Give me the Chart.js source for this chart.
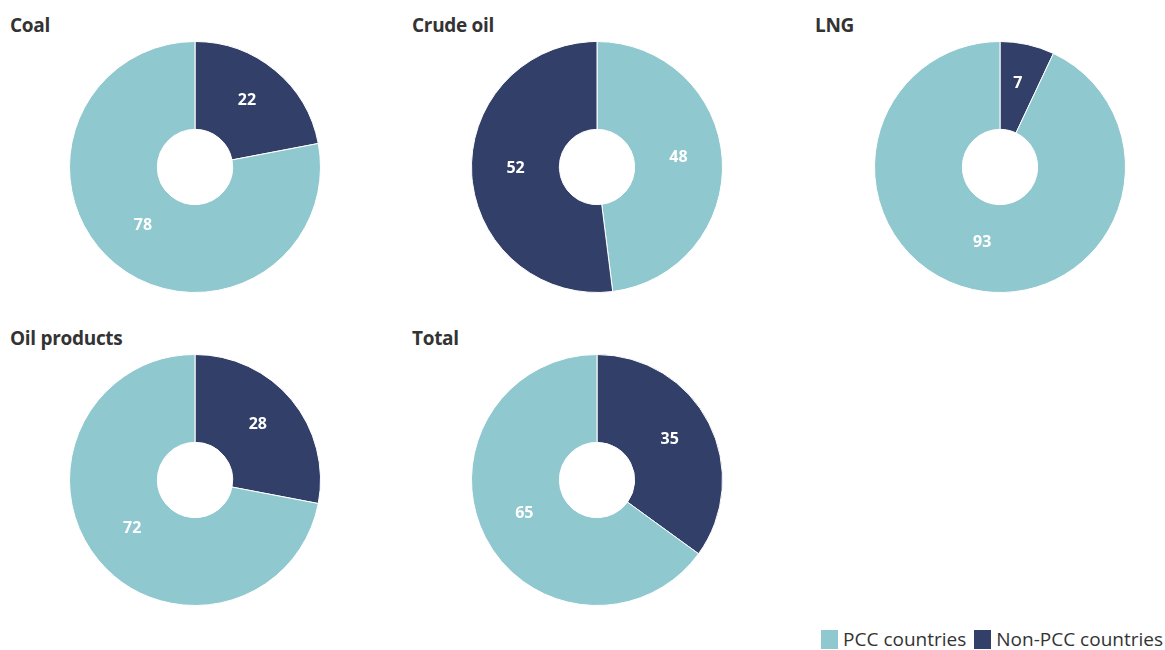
<!DOCTYPE html>
<html>
<head>
<meta charset="utf-8">
<script src="https://cdn.jsdelivr.net/npm/chart.js@4/dist/chart.umd.min.js"></script>
<style>
  html, body { margin: 0; padding: 0; background: #fff; }
  body { width: 1165px; height: 650px; position: relative; overflow: hidden; font-family: "Open Sans", "Noto Sans", sans-serif; }
  .cell { position: absolute; width: 390px; height: 300px; }
  .title { position: absolute; left: 10px; top: 7px; font-weight: 700; font-size: 19px; color: #333; letter-spacing: -0.3px; }
  .cv { position: absolute; left: 0; top: 36px; width: 390px; height: 252px; }
  .legend { position: absolute; right: 2px; top: 626px; font-size: 19px; color: #333; display: flex; align-items: center; }
  .legend .sw { display: inline-block; width: 17px; height: 19px; margin-right: 5px; }
  .legend .item { display: flex; align-items: center; margin-left: 8px; }
</style>
</head>
<body>
<script>
const seriesNames = ["PCC countries", "Non-PCC countries"];
const chartTitles = ["Coal", "Crude oil", "LNG", "Oil products", "Total"];
// values listed in drawing order (clockwise from 12 o'clock)
const coalLabels = ["Non-PCC countries", "PCC countries"];
const coalValues = [22, 78];
const crudeLabels = ["PCC countries", "Non-PCC countries"];
const crudeValues = [48, 52];
const lngLabels = ["Non-PCC countries", "PCC countries"];
const lngValues = [7, 93];
const oilProdLabels = ["Non-PCC countries", "PCC countries"];
const oilProdValues = [28, 72];
const totalLabels = ["Non-PCC countries", "PCC countries"];
const totalValues = [35, 65];

const colorMap = { "PCC countries": "#8fc8ce", "Non-PCC countries": "#323f68" };

const panels = [
  { labels: coalLabels, values: coalValues },
  { labels: crudeLabels, values: crudeValues },
  { labels: lngLabels, values: lngValues },
  { labels: oilProdLabels, values: oilProdValues },
  { labels: totalLabels, values: totalValues }
];
const positions = [[0, 5], [402, 5], [805, 5], [0, 318], [402, 318]];

const labelPlugin = {
  id: 'sliceLabels',
  afterDatasetsDraw(chart) {
    const ctx = chart.ctx;
    const meta = chart.getDatasetMeta(0);
    const ds = chart.data.datasets[0];
    ctx.save();
    ctx.fillStyle = '#fff';
    ctx.font = 'bold 16px "Open Sans", "Noto Sans", sans-serif';
    ctx.textAlign = 'center';
    ctx.textBaseline = 'middle';
    meta.data.forEach((arc, i) => {
      const p = arc.getCenterPoint();
      ctx.fillText(String(ds.data[i]), p.x, p.y - 4);
    });
    ctx.restore();
  }
};

panels.forEach((p, idx) => {
  const cell = document.createElement('div');
  cell.className = 'cell';
  cell.style.left = positions[idx][0] + 'px';
  cell.style.top = positions[idx][1] + 'px';
  const t = document.createElement('div');
  t.className = 'title';
  t.textContent = chartTitles[idx];
  cell.appendChild(t);
  const wrap = document.createElement('div');
  wrap.className = 'cv';
  const c = document.createElement('canvas');
  wrap.appendChild(c);
  cell.appendChild(wrap);
  document.body.appendChild(cell);
  new Chart(c, {
    type: 'doughnut',
    data: {
      labels: p.labels,
      datasets: [{
        data: p.values,
        backgroundColor: p.labels.map(l => colorMap[l]),
        borderColor: '#ffffff',
        borderWidth: 1
      }]
    },
    options: {
      responsive: true,
      maintainAspectRatio: false,
      animation: false,
      cutout: '30%',
      layout: { padding: 0 },
      plugins: { legend: { display: false }, tooltip: { enabled: false } }
    },
    plugins: [labelPlugin]
  });
});

const leg = document.createElement('div');
leg.className = 'legend';
seriesNames.forEach(n => {
  const it = document.createElement('div');
  it.className = 'item';
  const sw = document.createElement('span');
  sw.className = 'sw';
  sw.style.background = colorMap[n];
  const tx = document.createElement('span');
  tx.textContent = n;
  it.appendChild(sw); it.appendChild(tx);
  leg.appendChild(it);
});
document.body.appendChild(leg);
</script>
</body>
</html>
